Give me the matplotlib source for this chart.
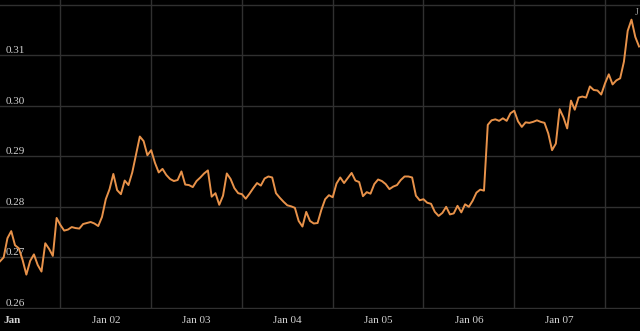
import matplotlib
matplotlib.use('Agg')
import matplotlib.pyplot as plt
import pandas as pd

# hourly values, Jan 01 08:00 onwards
start = '2024-01-01 08:00'
values = [
    0.2692, 0.2700, 0.2738, 0.2752, 0.2724, 0.2718, 0.2695, 0.2666, 0.2693, 0.2706,
    0.2685, 0.2672, 0.2728, 0.2717, 0.2703, 0.2778, 0.2764, 0.2753, 0.2755, 0.2760,
    0.2758, 0.2757, 0.2766, 0.2768, 0.2770, 0.2767, 0.2762, 0.2780, 0.2815, 0.2835,
    0.2865, 0.2833, 0.2825, 0.2852, 0.2843, 0.2868, 0.2903, 0.2939, 0.2930, 0.2902,
    0.2912, 0.2887, 0.2868, 0.2875, 0.2863, 0.2855, 0.2851, 0.2853, 0.2870, 0.2844,
    0.2843, 0.2839, 0.2851, 0.2858, 0.2866, 0.2872, 0.2820, 0.2827, 0.2804, 0.2822,
    0.2866, 0.2855, 0.2837, 0.2827, 0.2825, 0.2816, 0.2826, 0.2837, 0.2847, 0.2842,
    0.2856, 0.2860, 0.2858, 0.2827, 0.2818, 0.2810, 0.2803, 0.2801, 0.2798, 0.2772,
    0.2761, 0.2790, 0.2772, 0.2767, 0.2768, 0.2794, 0.2815, 0.2823, 0.2819, 0.2846,
    0.2858, 0.2847, 0.2857, 0.2867, 0.2852, 0.2849, 0.2821, 0.2829, 0.2826, 0.2845,
    0.2854, 0.2851, 0.2845, 0.2835, 0.2840, 0.2843, 0.2853, 0.2860, 0.2860, 0.2858,
    0.2822, 0.2813, 0.2815, 0.2808, 0.2806, 0.2790, 0.2782, 0.2788, 0.2800, 0.2785,
    0.2787, 0.2802, 0.2789, 0.2805, 0.2800, 0.2812, 0.2828, 0.2834, 0.2832, 0.2962,
    0.2971, 0.2973, 0.2970, 0.2975, 0.2970, 0.2985, 0.2990, 0.2969, 0.2958, 0.2967,
    0.2966, 0.2968, 0.2971, 0.2968, 0.2966, 0.2945, 0.2912, 0.2925, 0.2993, 0.2977,
    0.2955, 0.3010, 0.2992, 0.3016, 0.3018, 0.3016, 0.3038, 0.3031, 0.3030, 0.3022,
    0.3044, 0.3062, 0.3042, 0.3050, 0.3054, 0.3087, 0.3148, 0.3170, 0.3136, 0.3117,
]
times = pd.date_range(start, periods=len(values), freq='h')

y_ticks = [0.26, 0.27, 0.28, 0.29, 0.30, 0.31, 0.32]
y_labels = ['0.26', '0.27', '0.28', '0.29', '0.30', '0.31', '']
day_labels = ['Jan', 'Jan 02', 'Jan 03', 'Jan 04', 'Jan 05', 'Jan 06', 'Jan 07']

bg = '#000000'
grid_col = '#303030'
text_col = '#d2d2d2'
line_col = '#e8924a'
serif = ['Liberation Serif', 'DejaVu Serif']

fig = plt.figure(figsize=(6.4, 3.31), dpi=100, facecolor=bg)
ax = fig.add_axes([0, 22 / 331, 1, 309 / 331])
ax.set_facecolor(bg)

ax.plot(times, values, color=line_col, lw=1.4, solid_joinstyle='round')

day0 = pd.Timestamp('2024-01-01')
ax.set_xlim(day0 + pd.Timedelta(hours=8.03), day0 + pd.Timedelta(hours=177.25))
ax.set_ylim(0.2598, 0.32089)

# gridlines at midnight, labels centred on each day
midnights = [day0 + pd.Timedelta(days=d) for d in range(1, 8)]
ax.set_xticks(midnights)
ax.set_xticklabels([])
label_pos = [day0 + pd.Timedelta(hours=11.3)] + \
    [day0 + pd.Timedelta(days=d, hours=12) for d in range(1, 7)]
ax.set_xticks(label_pos, minor=True)
ax.set_xticklabels(day_labels, minor=True)
ax.tick_params(axis='x', which='both', length=0, pad=5, colors=text_col)
for lbl in ax.get_xticklabels(minor=True):
    lbl.set_fontfamily(serif)
    lbl.set_fontsize(8)
ax.get_xticklabels(minor=True)[0].set_fontweight('bold')

ax.set_yticks(y_ticks)
ax.set_yticklabels(y_labels)
ax.tick_params(axis='y', length=0, pad=-4, colors=text_col)
for lbl in ax.get_yticklabels():
    lbl.set_horizontalalignment('left')
    lbl.set_verticalalignment('bottom')
    lbl.set_fontfamily(serif)
    lbl.set_fontsize(8)

ax.grid(True, which='major', color=grid_col, lw=1)
ax.set_axisbelow(True)
for s in ax.spines.values():
    s.set_visible(False)

# clipped label at the top right corner
ax.text(0.994, 0.958, 'J', transform=ax.transAxes, color='#a0a0a0',
        fontsize=7, family=serif, ha='center', va='center', zorder=5)

fig.savefig('out.png', dpi=100, facecolor=bg)
